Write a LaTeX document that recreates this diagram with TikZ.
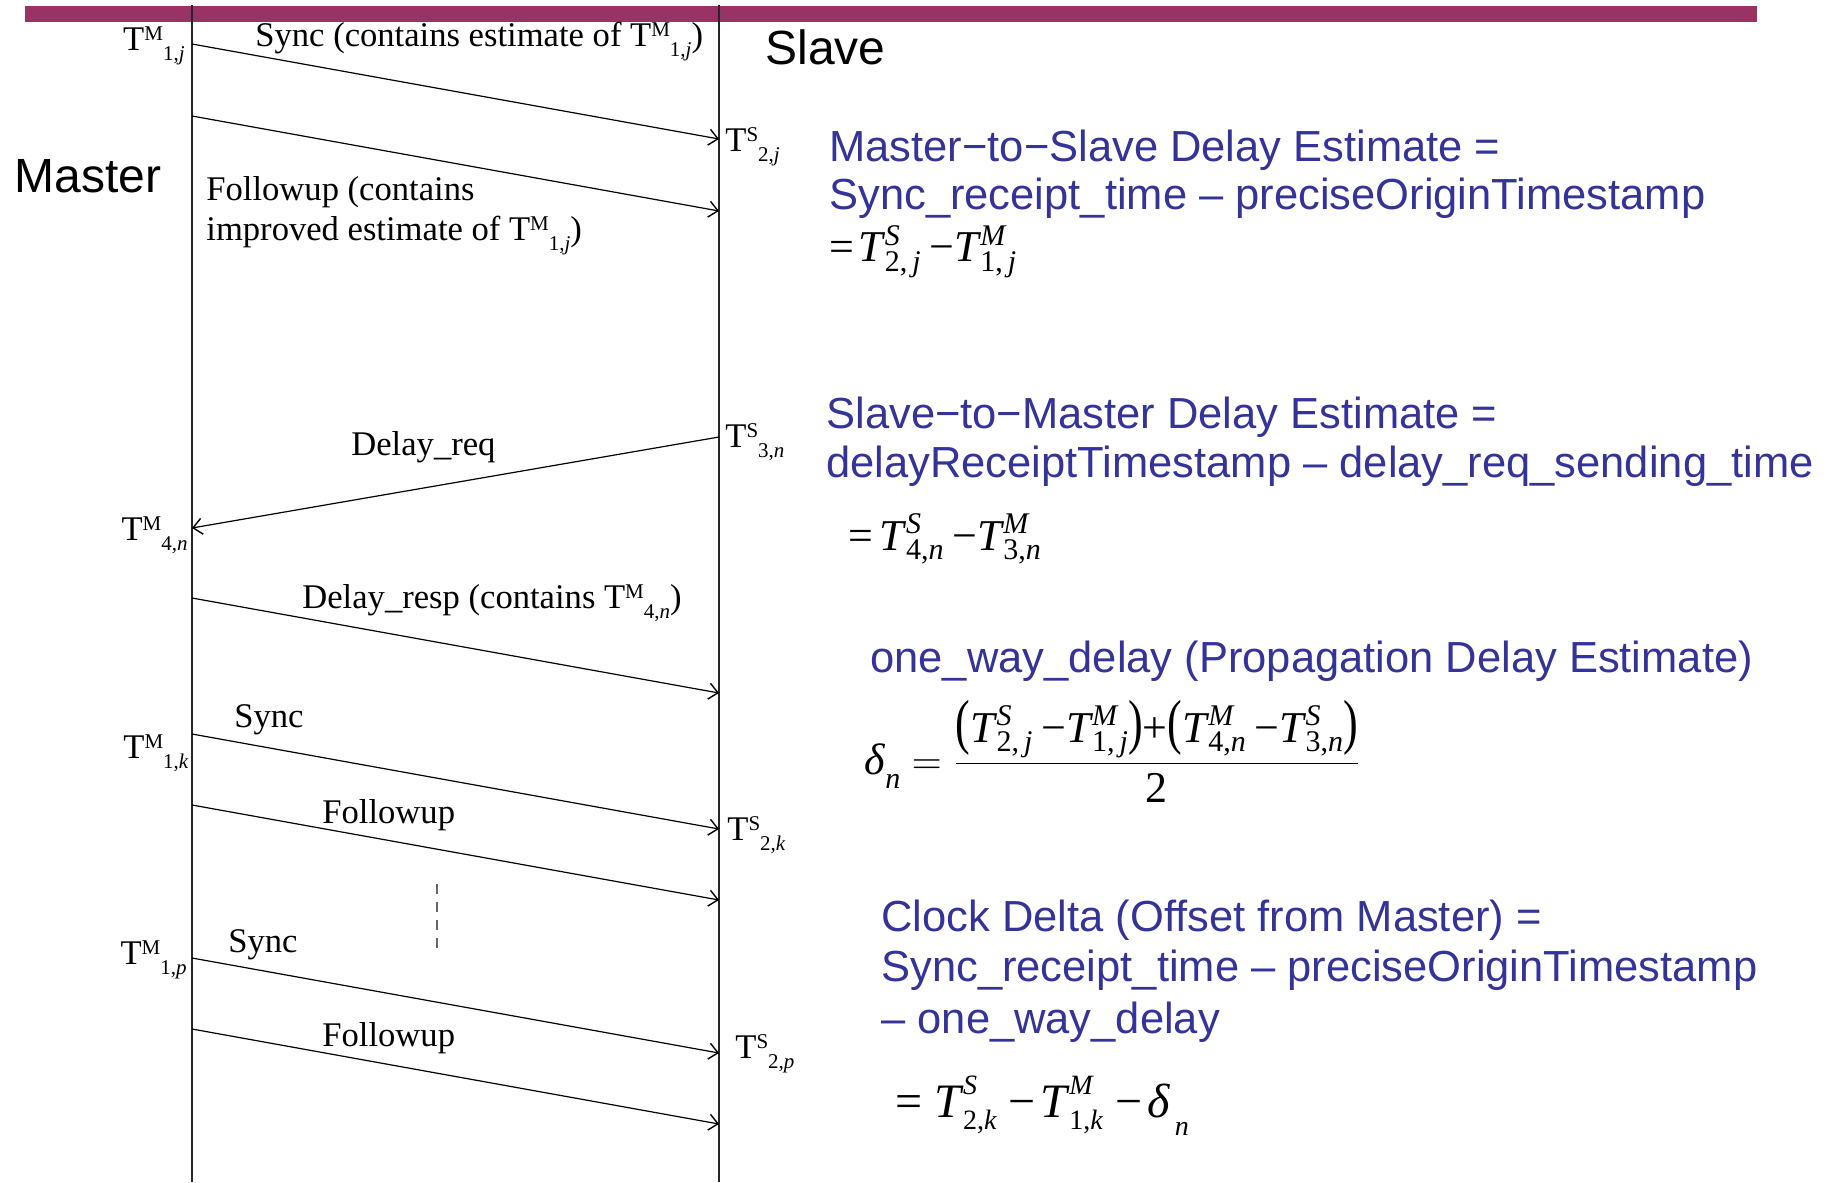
\documentclass[tikz,border=0pt]{standalone}
\usepackage{fontspec}
\usepackage{amsmath}
\usepackage{graphicx}
\setmainfont{Liberation Serif}
\newfontfamily\gsans{Liberation Sans}
\usetikzlibrary{arrows.meta}
\definecolor{barcol}{RGB}{153,51,102}
\definecolor{txtblue}{RGB}{51,51,153}
% small scripts for the timestamp labels (label font 17.3pt)
\newcommand\ssz{\fontsize{10.5}{10.5}\selectfont}
\newcommand\TL[3]{T\raisebox{5pt}{\ssz #1}\raisebox{-5pt}{\ssz #2,\textit{#3}}}
% formula pieces (formula font 22pt)
\newcommand\msz{\fontsize{15}{15}\selectfont}
\newcommand\Tm[3]{\textit{T}\kern-0.02em\rlap{\raisebox{0.37em}{\msz\textit{#1}}}\raisebox{-0.21em}{\msz #2,\textit{#3}}}
\newcommand\dn{\textit{δ}\raisebox{-0.32em}{\msz\textit{n}}}
% larger formula (24pt)
\newcommand\msb{\fontsize{14}{14}\selectfont}
\newcommand\TmB[3]{\textit{T}\kern-0.02em\rlap{\raisebox{0.47em}{\msb\textit{#1}}}\raisebox{-0.27em}{\msb #2,\textit{#3}}}
\newcommand\dnB{\textit{δ}\kern0.1em\raisebox{-0.38em}{\msb\textit{n}}}
\newcommand\ParL{\scalebox{1}[1.38]{(}}
\newcommand\ParR{\scalebox{1}[1.38]{)}}
\tikzset{
  lifeline/.style={line width=0.7pt, draw=black!85},
  msg/.style={line width=0.6pt, -{Straight Barb[length=4.5pt,width=8pt,line width=0.7pt]}},
  lbl/.style={inner sep=0pt, anchor=base west, font=\fontsize{17.3}{20}\selectfont},
  lblr/.style={lbl, anchor=base east},
  role/.style={inner sep=0pt, anchor=base west, font=\gsans\fontsize{24}{28}\selectfont},
  note/.style={inner sep=0pt, anchor=base west, text=txtblue, font=\gsans\fontsize{21.75}{25}\selectfont},
  eqn/.style={inner sep=0pt, anchor=base west, font=\fontsize{22}{26}\selectfont},
  eqnB/.style={inner sep=0pt, anchor=base west, font=\fontsize{24}{28}\selectfont},
  dots/.style={line width=0.6pt, draw=black!60, dash pattern=on 5pt off 4pt},
}
\begin{document}
\begin{tikzpicture}[x=0.5pt,y=-0.5pt]
\useasboundingbox (0,0) rectangle (1829,1182);
\fill[barcol] (25,6) rectangle (1757,22);
% lifelines
\coordinate (mtop) at (192,5);  \coordinate (mbot) at (192,1182);
\coordinate (stop) at (719,5);  \coordinate (sbot) at (719,1182);
\draw[lifeline] (mtop) -- (mbot);
\draw[lifeline] (stop) -- (sbot);
% role labels
\node[role] (master) at (14,193) {Master};
\node[role] (slave) at (765,65) {Slave};
% message endpoints
\coordinate (m1) at (192,44);   \coordinate (s1) at (719,139);
\coordinate (m2) at (192,116);  \coordinate (s2) at (719,211);
\coordinate (s3) at (719,437);  \coordinate (m3) at (192,528);
\coordinate (m4) at (192,598);  \coordinate (s4) at (719,693);
\coordinate (m5) at (192,734);  \coordinate (s5) at (719,829);
\coordinate (m6) at (192,805);  \coordinate (s6) at (719,900);
\coordinate (m7) at (192,958);  \coordinate (s7) at (719,1053);
\coordinate (m8) at (192,1029); \coordinate (s8) at (719,1124);
\draw[msg] (m1) -- (s1);
\draw[msg] (m2) -- (s2);
\draw[msg] (s3) -- (m3);
\draw[msg] (m4) -- (s4);
\draw[msg] (m5) -- (s5);
\draw[msg] (m6) -- (s6);
\draw[msg] (m7) -- (s7);
\draw[msg] (m8) -- (s8);
\coordinate (d1) at (437,884); \coordinate (d2) at (437,953);
\draw[dots] (d1) -- (d2);
% message labels
\node[lbl] (lsync1) at (255,47) {Sync (contains estimate of \TL{M}{1}{j})};
\node[lbl] (lfu1a) at (206,201) {Followup (contains};
\node[lbl] (lfu1b) at (206,241) {improved estimate of \TL{M}{1}{j})};
\node[lbl] (ldreq) at (351,455) {Delay\_req};
\node[lbl] (ldresp) at (302,608) {Delay\_resp (contains \TL{M}{4}{n})};
\node[lbl] (lsync2) at (234,727) {Sync};
\node[lbl] (lfu2) at (322,823) {Followup};
\node[lbl] (lsync3) at (228,952) {Sync};
\node[lbl] (lfu3) at (322,1046) {Followup};
% timestamps
\node[lblr] (t1j) at (185,51) {\TL{M}{1}{j}};
\node[lbl] (t2j) at (725,152) {\TL{S}{2}{j}};
\node[lbl] (t3n) at (725,447) {\TL{S}{3}{n}};
\node[lblr] (t4n) at (188,540) {\TL{M}{4}{n}};
\node[lblr] (t1k) at (189,758) {\TL{M}{1}{k}};
\node[lbl] (t2k) at (727,840) {\TL{S}{2}{k}};
\node[lblr] (t1p) at (187,964) {\TL{M}{1}{p}};
\node[lbl] (t2p) at (735,1058) {\TL{S}{2}{p}};
% right-hand notes
\node[note] (n1a) at (829,162) {Master−to−Slave Delay Estimate =};
\node[note] (n1b) at (829,210) {Sync\_receipt\_time – preciseOriginTimestamp};
\node[eqn] (e1) at (829,262) {=\kern0.1em\Tm{S}{2}{\,j}\kern0.2em−\Tm{M}{1}{\,j}};
\node[note] (n2a) at (826,428) {Slave−to−Master Delay Estimate =};
\node[note] (n2b) at (826,477) {delayReceiptTimestamp – delay\_req\_sending\_time};
\node[eqn] (e2) at (848,550) {=\kern0.15em\Tm{S}{4}{n}\kern0.2em−\Tm{M}{3}{n}};
\node[note] (n3) at (870,672) {one\_way\_delay (Propagation Delay Estimate)};
\node[eqn] (e3) at (864,774) {$\mbox{\dn}=\dfrac{\mbox{\ParL\Tm{S}{2}{\,j}\kern0.2em−\Tm{M}{1}{\,j}\ParR+\ParL\Tm{M}{4}{n}\kern0.2em−\Tm{S}{3}{n}\ParR}}{\mbox{2}}$};
\node[note] (n4a) at (881,931) {Clock Delta (Offset from Master) =};
\node[note] (n4b) at (881,981) {Sync\_receipt\_time – preciseOriginTimestamp};
\node[note] (n4c) at (881,1033) {– one\_way\_delay};
\node[eqnB] (e4) at (895,1117) {=\kern0.25em\TmB{S}{2}{k}\kern0.25em−\kern0.1em\TmB{M}{1}{k}\kern0.25em−\kern0.1em\dnB};
\end{tikzpicture}
\end{document}
